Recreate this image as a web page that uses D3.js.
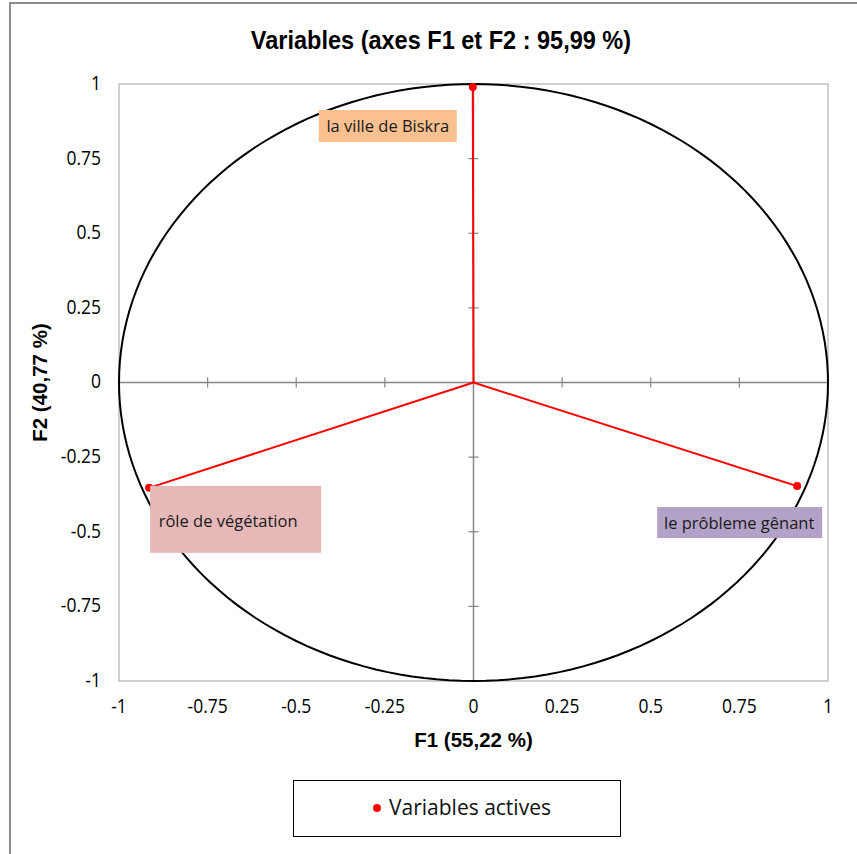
<!DOCTYPE html>
<html><head><meta charset="utf-8">
<script src="https://cdn.jsdelivr.net/npm/d3@7"></script>
<style>body{margin:0;background:#fff}svg{display:block}</style>
</head><body>
<script>
const variables = ["la ville de Biskra", "rôle de végétation", "le prôbleme gênant"];
const f1Values = [-0.002, -0.915, 0.913];
const f2Values = [0.99, -0.353, -0.347];
const labelColors = ["#FAC090", "#E6B9B8", "#B3A2C7"];
const tickValues = [-1, -0.75, -0.5, -0.25, 0, 0.25, 0.5, 0.75, 1];
const tickLabels = ["-1", "-0.75", "-0.5", "-0.25", "0", "0.25", "0.5", "0.75", "1"];
const title = "Variables (axes F1 et F2 : 95,99 %)";
const xTitle = "F1 (55,22 %)";
const yTitle = "F2 (40,77 %)";
const legendLabel = "Variables actives";

const W = 857, H = 854;
const svg = d3.select("body").append("svg").attr("width", W).attr("height", H);
const bodyFont = "'Open Sans', 'Noto Sans', sans-serif";
const boldFont = "'Liberation Sans', Arial, sans-serif";

// outer chart border
svg.append("rect").attr("x", 10).attr("y", 3).attr("width", W + 20).attr("height", H + 20)
  .attr("fill", "none").attr("stroke", "#8c8c8c").attr("stroke-width", 2);

const x = d3.scaleLinear().domain([-1, 1]).range([119, 828]);
const y = d3.scaleLinear().domain([-1, 1]).range([681, 84]);

// plot area border
svg.append("rect").attr("x", x(-1)).attr("y", y(1)).attr("width", x(1) - x(-1)).attr("height", y(-1) - y(1))
  .attr("fill", "none").attr("stroke", "#c0c0c0").attr("stroke-width", 1.5);

// title
svg.append("text").attr("x", 441).attr("y", 49).attr("text-anchor", "middle")
  .attr("font-family", boldFont).attr("font-weight", "bold").attr("font-size", 24)
  .attr("transform", "translate(441,49) scale(0.98,1.08) translate(-441,-49)").text(title);

// tick labels
const tickStretch = (tx, ty) => `translate(${tx},${ty}) scale(1,1.12) translate(${-tx},${-ty})`;
svg.append("g").selectAll("text").data(tickValues).join("text")
  .attr("x", 101).attr("y", d => y(d) + 6).attr("text-anchor", "end")
  .attr("transform", d => tickStretch(101, y(d) + 6))
  .attr("font-family", bodyFont).attr("font-size", 17.5).attr("fill", "#000")
  .text((d, i) => tickLabels[i]);
svg.append("g").selectAll("text").data(tickValues).join("text")
  .attr("x", d => x(d)).attr("y", 713).attr("text-anchor", "middle")
  .attr("transform", d => tickStretch(x(d), 713))
  .attr("font-family", bodyFont).attr("font-size", 17.5).attr("fill", "#000")
  .text((d, i) => tickLabels[i]);

// axis titles
svg.append("text").attr("x", x(0)).attr("y", 747).attr("text-anchor", "middle")
  .attr("font-family", boldFont).attr("font-weight", "bold").attr("font-size", 20.5).text(xTitle);
svg.append("text").attr("transform", `translate(47,${y(0)}) rotate(-90)`).attr("text-anchor", "middle")
  .attr("font-family", boldFont).attr("font-weight", "bold").attr("font-size", 20.5).text(yTitle);

// zero axes through origin with ticks
const axisColor = "#868686";
svg.append("line").attr("x1", x(-1)).attr("x2", x(1)).attr("y1", y(0)).attr("y2", y(0))
  .attr("stroke", axisColor).attr("stroke-width", 1.5);
svg.append("line").attr("x1", x(0)).attr("x2", x(0)).attr("y1", y(-1)).attr("y2", y(1))
  .attr("stroke", axisColor).attr("stroke-width", 1.5);
svg.append("g").selectAll("line").data(tickValues).join("line")
  .attr("x1", x(0) - 5).attr("x2", x(0) + 5).attr("y1", d => y(d)).attr("y2", d => y(d))
  .attr("stroke", axisColor).attr("stroke-width", 1.2);
svg.append("g").selectAll("line").data(tickValues).join("line")
  .attr("y1", y(0) - 5).attr("y2", y(0) + 5).attr("x1", d => x(d)).attr("x2", d => x(d))
  .attr("stroke", axisColor).attr("stroke-width", 1.2);

// correlation circle
const circ = d3.range(0, 361, 2).map(a => [Math.cos(a * Math.PI / 180), Math.sin(a * Math.PI / 180)]);
svg.append("path").attr("d", d3.line().x(d => x(d[0])).y(d => y(d[1]))(circ))
  .attr("fill", "none").attr("stroke", "#000").attr("stroke-width", 2);

// vectors
const pts = variables.map((v, i) => ({v, fx: f1Values[i], fy: f2Values[i], c: labelColors[i]}));
svg.append("g").selectAll("line").data(pts).join("line")
  .attr("x1", x(0)).attr("y1", y(0)).attr("x2", d => x(d.fx)).attr("y2", d => y(d.fy))
  .attr("stroke", "#ff0000").attr("stroke-width", 2);
svg.append("g").selectAll("circle").data(pts).join("circle")
  .attr("cx", d => x(d.fx)).attr("cy", d => y(d.fy)).attr("r", 4).attr("fill", "#ff0000");

// label boxes (position offsets relative to point)
const boxes = [
  {dx: -154, dy: 23, w: 138, h: 32, tdx: 69, tdy: 22},
  {dx: 1, dy: -2, w: 171, h: 67, tdx: 78, tdy: 41},
  {dx: -140, dy: 21, w: 165, h: 31, tdx: 82, tdy: 22}
];
const lg = svg.append("g").selectAll("g").data(pts).join("g");
lg.append("rect")
  .attr("x", (d, i) => x(d.fx) + boxes[i].dx).attr("y", (d, i) => y(d.fy) + boxes[i].dy)
  .attr("width", (d, i) => boxes[i].w).attr("height", (d, i) => boxes[i].h).attr("fill", d => d.c);
lg.append("text")
  .attr("x", (d, i) => x(d.fx) + boxes[i].dx + boxes[i].tdx).attr("y", (d, i) => y(d.fy) + boxes[i].dy + boxes[i].tdy)
  .attr("text-anchor", "middle").attr("font-family", bodyFont).attr("font-size", 16.5).attr("fill", "#1a1a1a")
  .text(d => d.v);

// legend
svg.append("rect").attr("x", 293.5).attr("y", 780.5).attr("width", 327).attr("height", 56)
  .attr("fill", "#fff").attr("stroke", "#000").attr("stroke-width", 1);
svg.append("circle").attr("cx", 377).attr("cy", 808).attr("r", 4).attr("fill", "#ff0000");
svg.append("text").attr("x", 389).attr("y", 815).attr("font-family", bodyFont).attr("font-size", 21)
  .attr("fill", "#111").text(legendLabel);
</script>
</body></html>
